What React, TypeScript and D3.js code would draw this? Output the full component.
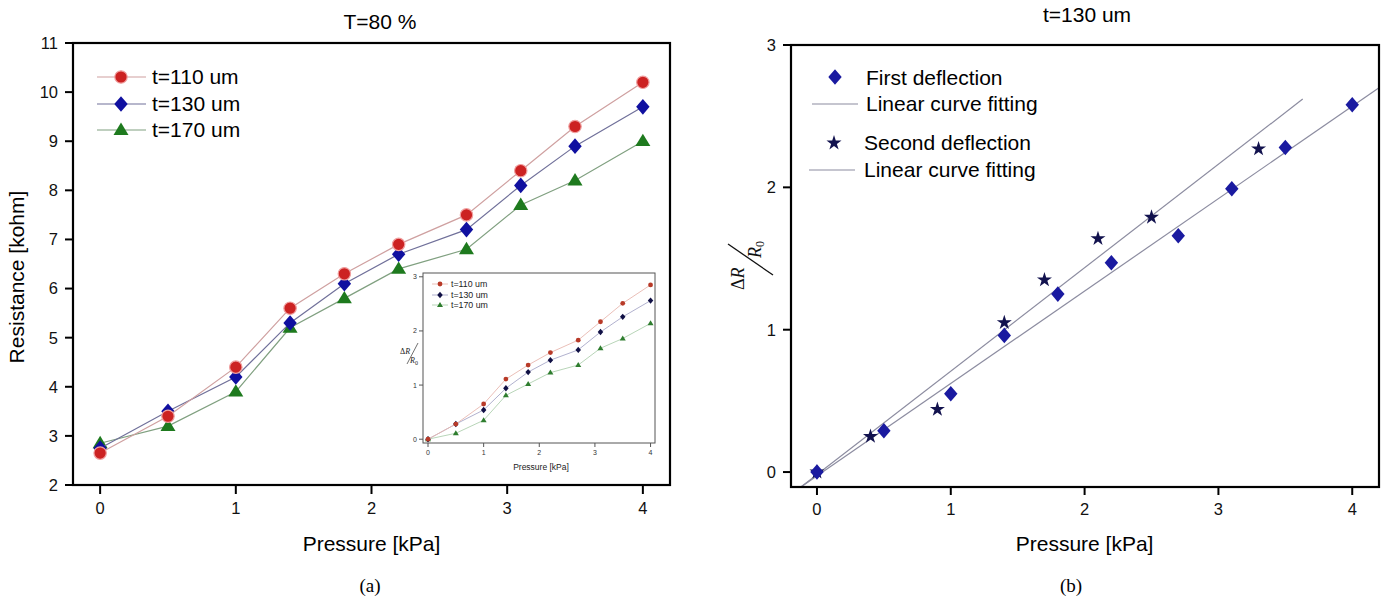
import React from 'react';
import * as d3 from 'd3';

// ---------- Data ----------
const pressure = [0, 0.5, 1, 1.4, 1.8, 2.2, 2.7, 3.1, 3.5, 4];
const res110 = [2.65, 3.4, 4.4, 5.6, 6.3, 6.9, 7.5, 8.4, 9.3, 10.2];
const res130 = [2.75, 3.5, 4.2, 5.3, 6.1, 6.7, 7.2, 8.1, 8.9, 9.7];
const res170 = [2.85, 3.2, 3.9, 5.2, 5.8, 6.4, 6.8, 7.7, 8.2, 9.0];

const dr110 = [0, 0.28, 0.65, 1.11, 1.37, 1.6, 1.83, 2.17, 2.51, 2.85];
const dr130 = [0, 0.28, 0.54, 0.94, 1.24, 1.46, 1.65, 1.98, 2.26, 2.56];
const dr170 = [0, 0.11, 0.35, 0.81, 1.02, 1.23, 1.37, 1.68, 1.86, 2.14];

const seriesLabels = ['t=110 um', 't=130 um', 't=170 um'];

const firstP = [0, 0.5, 1, 1.4, 1.8, 2.2, 2.7, 3.1, 3.5, 4];
const firstDR = [0, 0.29, 0.55, 0.96, 1.25, 1.47, 1.66, 1.99, 2.28, 2.58];
const secondP = [0, 0.4, 0.9, 1.4, 1.7, 2.1, 2.5, 3.3];
const secondDR = [0, 0.25, 0.44, 1.05, 1.35, 1.64, 1.79, 2.27];

const fit1P = [-0.12, 4.2];
const fit1DR = [-0.105, 2.7];
const fit2P = [-0.12, 3.63];
const fit2DR = [-0.105, 2.62];

const rightLegend = ['First deflection', 'Linear curve fitting', 'Second deflection', 'Linear curve fitting'];

const xTicks = [0, 1, 2, 3, 4];
const leftYTicks = [2, 3, 4, 5, 6, 7, 8, 9, 10, 11];
const insetYTicks = [0, 1, 2, 3];
const rightYTicks = [0, 1, 2, 3];

const titleA = 'T=80 %';
const titleB = 't=130 um';
const xLabel = 'Pressure [kPa]';
const yLabelA = 'Resistance [kohm]';

// ---------- Styles ----------
const SANS = '"Liberation Sans", Arial, sans-serif';
const SERIF = '"Liberation Serif", "Times New Roman", serif';

const C = {
  red: '#cc2222', redHalo: '#f0a0a0', redLine: '#cfa0a0',
  blue: '#1010a0', blueLine: '#70709a',
  green: '#1e7a1e', greenLine: '#80a080',
  iRed: '#b83a28', iNavy: '#101045', iGreen: '#2e7d2e',
  iRedLine: '#e8b8b0', iNavyLine: '#a8a8c8', iGreenLine: '#b0d0b0',
  diamondB: '#1a1aa0', star: '#12124e', fit: '#8c8ca0',
};

const diamond = (hw: number, hh: number) => `M0,${-hh}L${hw},0L0,${hh}L${-hw},0Z`;
const triangle = (hw: number, up: number, down: number) => `M0,${-up}L${hw},${down}L${-hw},${down}Z`;

function Marker({ kind, x, y, size, fill }: { kind: string; x: number; y: number; size: number; fill: string }) {
  if (kind === 'circle') {
    return <circle cx={x} cy={y} r={size} fill={fill} stroke={size > 4 ? C.redHalo : 'none'} strokeWidth={1.2} />;
  }
  if (kind === 'diamond') {
    return <path d={diamond(size * 0.86, size)} transform={`translate(${x},${y})`} fill={fill} />;
  }
  if (kind === 'triangle') {
    return <path d={triangle(size, size, size * 0.65)} transform={`translate(${x},${y})`} fill={fill} />;
  }
  const star = d3.symbol().type(d3.symbolStar).size(size)() as string;
  return <path d={star} transform={`translate(${x},${y})`} fill={fill} />;
}

export default function App() {
  // ---------- Chart (a) ----------
  const xA = d3.scaleLinear().domain([-0.2, 4.2]).range([73, 670]);
  const yA = d3.scaleLinear().domain([2, 11]).range([485, 43]);
  const lineA = d3.line<number>().x((_, i) => xA(pressure[i])).y((d) => yA(d));

  const mainSeries = [
    { vals: res170, kind: 'triangle', fill: C.green, line: C.greenLine, size: 7.5 },
    { vals: res130, kind: 'diamond', fill: C.blue, line: C.blueLine, size: 7.8 },
    { vals: res110, kind: 'circle', fill: C.red, line: C.redLine, size: 6.2 },
  ];
  const legendA = [
    { label: seriesLabels[0], kind: 'circle', fill: C.red, line: C.redLine, size: 6.2 },
    { label: seriesLabels[1], kind: 'diamond', fill: C.blue, line: C.blueLine, size: 7.8 },
    { label: seriesLabels[2], kind: 'triangle', fill: C.green, line: C.greenLine, size: 7.5 },
  ];
  const legendAY = [77, 104, 130];

  // ---------- Inset ----------
  const xI = d3.scaleLinear().domain([-0.09, 4.08]).range([423, 655]);
  const yI = d3.scaleLinear().domain([-0.07, 3.07]).range([443, 273]);
  const lineI = d3.line<number>().x((_, i) => xI(pressure[i])).y((d) => yI(d));
  const insetSeries = [
    { vals: dr170, kind: 'triangle', fill: C.iGreen, line: C.iGreenLine, size: 3 },
    { vals: dr130, kind: 'diamond', fill: C.iNavy, line: C.iNavyLine, size: 3.2 },
    { vals: dr110, kind: 'circle', fill: C.iRed, line: C.iRedLine, size: 2.4 },
  ];
  const legendI = [
    { label: seriesLabels[0], kind: 'circle', fill: C.iRed, line: C.iRedLine, size: 2.4 },
    { label: seriesLabels[1], kind: 'diamond', fill: C.iNavy, line: C.iNavyLine, size: 3.2 },
    { label: seriesLabels[2], kind: 'triangle', fill: C.iGreen, line: C.iGreenLine, size: 3 },
  ];
  const legendIY = [284, 295, 305];

  // ---------- Chart (b) ----------
  const xB = d3.scaleLinear().domain([-0.194, 4.2]).range([791, 1379]);
  const yB = d3.scaleLinear().domain([-0.105, 3.0]).range([487, 45]);
  const fitLine = (ps: number[], vs: number[]) =>
    d3.line<number>().x((p) => xB(p)).y((_, i) => yB(vs[i]))(ps) as string;

  return (
    <svg width={1386} height={598} style={{ position: 'absolute', left: 0, top: 0, background: '#fff' }}>
      <rect x={0} y={0} width={1386} height={598} fill="#fff" />
      <defs>
        <clipPath id="clipB">
          <rect x={791} y={45} width={588} height={442} />
        </clipPath>
      </defs>

      {/* ===== Chart (a) ===== */}
      <text x={380} y={29} fontFamily={SANS} fontSize={21} textAnchor="middle">{titleA}</text>
      {mainSeries.map((s, si) => (
        <g key={si}>
          <path d={lineA(s.vals) as string} fill="none" stroke={s.line} strokeWidth={1.2} />
          {s.vals.map((v, i) => (
            <Marker key={i} kind={s.kind} x={xA(pressure[i])} y={yA(v)} size={s.size} fill={s.fill} />
          ))}
        </g>
      ))}
      <rect x={73} y={43} width={597} height={442} fill="none" stroke="#000" strokeWidth={2.2} />
      {leftYTicks.map((t) => (
        <g key={t}>
          <line x1={65} x2={73} y1={yA(t)} y2={yA(t)} stroke="#000" strokeWidth={2} />
          <text x={58} y={yA(t)} dy="0.36em" fontFamily={SANS} fontSize={16.5} textAnchor="end" fill="#111">{t}</text>
        </g>
      ))}
      {xTicks.map((t) => (
        <g key={t}>
          <line x1={xA(t)} x2={xA(t)} y1={485} y2={494} stroke="#000" strokeWidth={2} />
          <text x={xA(t)} y={514} fontFamily={SANS} fontSize={16.5} textAnchor="middle" fill="#111">{t}</text>
        </g>
      ))}
      <text x={xA(2)} y={551} fontFamily={SANS} fontSize={21} textAnchor="middle">{xLabel}</text>
      <text transform="translate(24,277) rotate(-90)" fontFamily={SANS} fontSize={21} textAnchor="middle">{yLabelA}</text>
      {legendA.map((l, i) => (
        <g key={i}>
          <line x1={97} x2={146} y1={legendAY[i]} y2={legendAY[i]} stroke={l.line} strokeWidth={1.2} />
          <Marker kind={l.kind} x={121} y={legendAY[i]} size={l.size} fill={l.fill} />
          <text x={152} y={legendAY[i] + 7} fontFamily={SANS} fontSize={21}>{l.label}</text>
        </g>
      ))}
      <text x={370} y={592} fontFamily={SERIF} fontSize={19} textAnchor="middle">(a)</text>

      {/* ===== Inset ===== */}
      {insetSeries.map((s, si) => (
        <g key={si}>
          <path d={lineI(s.vals) as string} fill="none" stroke={s.line} strokeWidth={0.9} />
          {s.vals.map((v, i) => (
            <Marker key={i} kind={s.kind} x={xI(pressure[i])} y={yI(v)} size={s.size} fill={s.fill} />
          ))}
        </g>
      ))}
      <rect x={423} y={273} width={232} height={170} fill="none" stroke="#555" strokeWidth={1} />
      {insetYTicks.map((t) => (
        <g key={t}>
          <line x1={419} x2={423} y1={yI(t)} y2={yI(t)} stroke="#555" strokeWidth={1} />
          <text x={417} y={yI(t)} dy="0.35em" fontFamily={SANS} fontSize={7} textAnchor="end" fill="#333">{t}</text>
        </g>
      ))}
      {xTicks.map((t) => (
        <g key={t}>
          <line x1={xI(t)} x2={xI(t)} y1={443} y2={447} stroke="#555" strokeWidth={1} />
          <text x={xI(t)} y={455} fontFamily={SANS} fontSize={7} textAnchor="middle" fill="#333">{t}</text>
        </g>
      ))}
      <text x={541} y={470} fontFamily={SANS} fontSize={8.5} textAnchor="middle" fill="#222">{xLabel}</text>
      <g fontFamily={SERIF} fill="#222">
        <text x={400} y={354} fontSize={8}>Δ<tspan fontStyle="italic">R</tspan></text>
        <line x1={407} y1={364} x2={418} y2={343} stroke="#333" strokeWidth={0.7} />
        <text x={410} y={363} fontSize={8} fontStyle="italic">R<tspan fontSize={6} fontStyle="normal" dy={1.5}>0</tspan></text>
      </g>
      {legendI.map((l, i) => (
        <g key={i}>
          <line x1={432} x2={448} y1={legendIY[i]} y2={legendIY[i]} stroke={l.line} strokeWidth={0.9} />
          <Marker kind={l.kind} x={440} y={legendIY[i]} size={l.size} fill={l.fill} />
          <text x={451} y={legendIY[i] + 3} fontFamily={SANS} fontSize={8.8} fill="#222">{l.label}</text>
        </g>
      ))}

      {/* ===== Chart (b) ===== */}
      <text x={1087} y={22} fontFamily={SANS} fontSize={21} textAnchor="middle">{titleB}</text>
      <g clipPath="url(#clipB)">
        <path d={fitLine(fit1P, fit1DR)} fill="none" stroke={C.fit} strokeWidth={1.2} />
        <path d={fitLine(fit2P, fit2DR)} fill="none" stroke={C.fit} strokeWidth={1.2} />
      </g>
      {secondP.map((p, i) => (
        <Marker key={'s' + i} kind="star" x={xB(p)} y={yB(secondDR[i])} size={70} fill={C.star} />
      ))}
      {firstP.map((p, i) => (
        <Marker key={'f' + i} kind="diamond" x={xB(p)} y={yB(firstDR[i])} size={7.8} fill={C.diamondB} />
      ))}
      <rect x={791} y={45} width={588} height={442} fill="none" stroke="#000" strokeWidth={2.2} />
      {rightYTicks.map((t) => (
        <g key={t}>
          <line x1={783} x2={791} y1={yB(t)} y2={yB(t)} stroke="#000" strokeWidth={2} />
          <text x={776} y={yB(t)} dy="0.36em" fontFamily={SANS} fontSize={16.5} textAnchor="end" fill="#111">{t}</text>
        </g>
      ))}
      {xTicks.map((t) => (
        <g key={t}>
          <line x1={xB(t)} x2={xB(t)} y1={487} y2={495} stroke="#000" strokeWidth={2} />
          <text x={xB(t)} y={515} fontFamily={SANS} fontSize={16.5} textAnchor="middle" fill="#111">{t}</text>
        </g>
      ))}
      <text x={xB(2)} y={551} fontFamily={SANS} fontSize={21} textAnchor="middle">{xLabel}</text>
      <g transform="translate(750,260) rotate(-90)" fontFamily={SERIF} fill="#111">
        <text x={-30} y={-6} fontSize={18}>Δ<tspan fontStyle="italic">R</tspan></text>
        <line x1={-15} y1={23} x2={16} y2={-22} stroke="#111" strokeWidth={1.3} />
        <text x={2} y={11} fontSize={18} fontStyle="italic">R<tspan fontSize={12} fontStyle="normal" dy={3}>0</tspan></text>
      </g>
      {/* legend (b) */}
      <Marker kind="diamond" x={835} y={77} size={7.8} fill={C.diamondB} />
      <text x={866} y={85} fontFamily={SANS} fontSize={21}>{rightLegend[0]}</text>
      <line x1={812} x2={858} y1={104} y2={104} stroke={C.fit} strokeWidth={1.2} />
      <text x={866} y={111} fontFamily={SANS} fontSize={21}>{rightLegend[1]}</text>
      <Marker kind="star" x={834} y={143} size={70} fill={C.star} />
      <text x={864} y={150} fontFamily={SANS} fontSize={21}>{rightLegend[2]}</text>
      <line x1={809} x2={855} y1={170} y2={170} stroke={C.fit} strokeWidth={1.2} />
      <text x={864} y={177} fontFamily={SANS} fontSize={21}>{rightLegend[3]}</text>
      <text x={1071} y={592} fontFamily={SERIF} fontSize={19} textAnchor="middle">(b)</text>
    </svg>
  );
}
